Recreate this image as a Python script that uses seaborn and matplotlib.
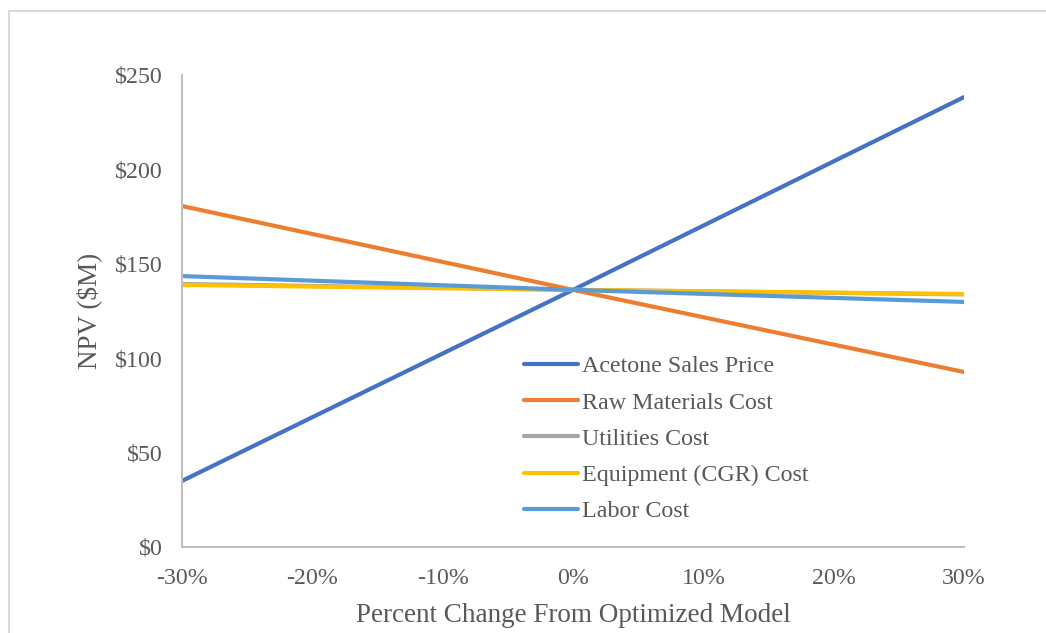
import matplotlib
matplotlib.use("Agg")
import matplotlib.pyplot as plt
import seaborn as sns
import pandas as pd
from matplotlib.patches import Rectangle

# Sensitivity of NPV ($M) to a +/- change in each input
pct_change = [-30, 0, 30]
acetone_sales_price = [35.0, 136.2, 238.3]
raw_materials_cost = [180.6, 136.2, 92.7]
utilities_cost = [139.3, 136.2, 133.8]
equipment_cgr_cost = [138.8, 136.2, 134.0]
labor_cost = [143.5, 136.2, 129.8]

series_names = ["Acetone Sales Price", "Raw Materials Cost", "Utilities Cost",
                "Equipment (CGR) Cost", "Labor Cost"]
series_values = [acetone_sales_price, raw_materials_cost, utilities_cost,
                 equipment_cgr_cost, labor_cost]
series_colors = ["#4472C4", "#ED7D31", "#A5A5A5", "#FFC000", "#5B9BD5"]

x_ticks = [-30, -20, -10, 0, 10, 20, 30]
x_tick_labels = ["-30%", "-20%", "-10%", "0%", "10%", "20%", "30%"]
y_ticks = [0, 50, 100, 150, 200, 250]
y_tick_labels = ["$0", "$50", "$100", "$150", "$200", "$250"]

rows = []
for name, vals in zip(series_names, series_values):
    for x, v in zip(pct_change, vals):
        rows.append({"change": x, "npv": v, "series": name})
df = pd.DataFrame(rows)

sns.set_theme(style="white")
plt.rcParams["font.family"] = ["Liberation Serif", "DejaVu Serif"]
text_color = "#595959"
axis_color = "#BFBFBF"

fig = plt.figure(figsize=(10.46, 6.33), dpi=100)
ax = fig.add_axes([182 / 1046, 1 - 547 / 633, (964 - 182) / 1046, (547 - 75) / 633])

# light chart-area frame
fig.patches.append(Rectangle((9 / 1046, -0.1), 1.2, 1 - 11 / 633 + 0.1,
                             transform=fig.transFigure, fill=False,
                             edgecolor="#D9D9D9", linewidth=1.5, zorder=0))

sns.lineplot(data=df, x="change", y="npv", hue="series", hue_order=series_names,
             palette=series_colors, linewidth=3.0, ax=ax, legend=True,
             solid_capstyle="round")

ax.set_xlim(-30, 30)
ax.set_ylim(0, 250)
ax.set_xticks(x_ticks)
ax.set_xticklabels(x_tick_labels)
ax.set_yticks(y_ticks)
ax.set_yticklabels(y_tick_labels)
ax.tick_params(axis="both", length=0, labelsize=17.2, colors=text_color)
ax.tick_params(axis="x", pad=15)
ax.tick_params(axis="y", pad=14)

for side in ["top", "right"]:
    ax.spines[side].set_visible(False)
for side in ["left", "bottom"]:
    ax.spines[side].set_color(axis_color)
    ax.spines[side].set_linewidth(1.5)

ax.set_xlabel("Percent Change From Optimized Model", fontsize=19.5,
              color=text_color, labelpad=10)
ax.set_ylabel("NPV ($M)", fontsize=19.5, color=text_color, labelpad=9)

handles, labels = ax.get_legend_handles_labels()
leg = ax.legend(handles, labels, loc="upper left",
                bbox_to_anchor=((514 - 182) / 782, (547 - 346) / 472),
                frameon=False, fontsize=17.3, handlelength=2.25,
                handletextpad=0.2, labelspacing=0.6, borderaxespad=0)
for t in leg.get_texts():
    t.set_color(text_color)
for h in leg.get_lines():
    h.set_linewidth(3.0)

fig.savefig("out.png", dpi=100)
